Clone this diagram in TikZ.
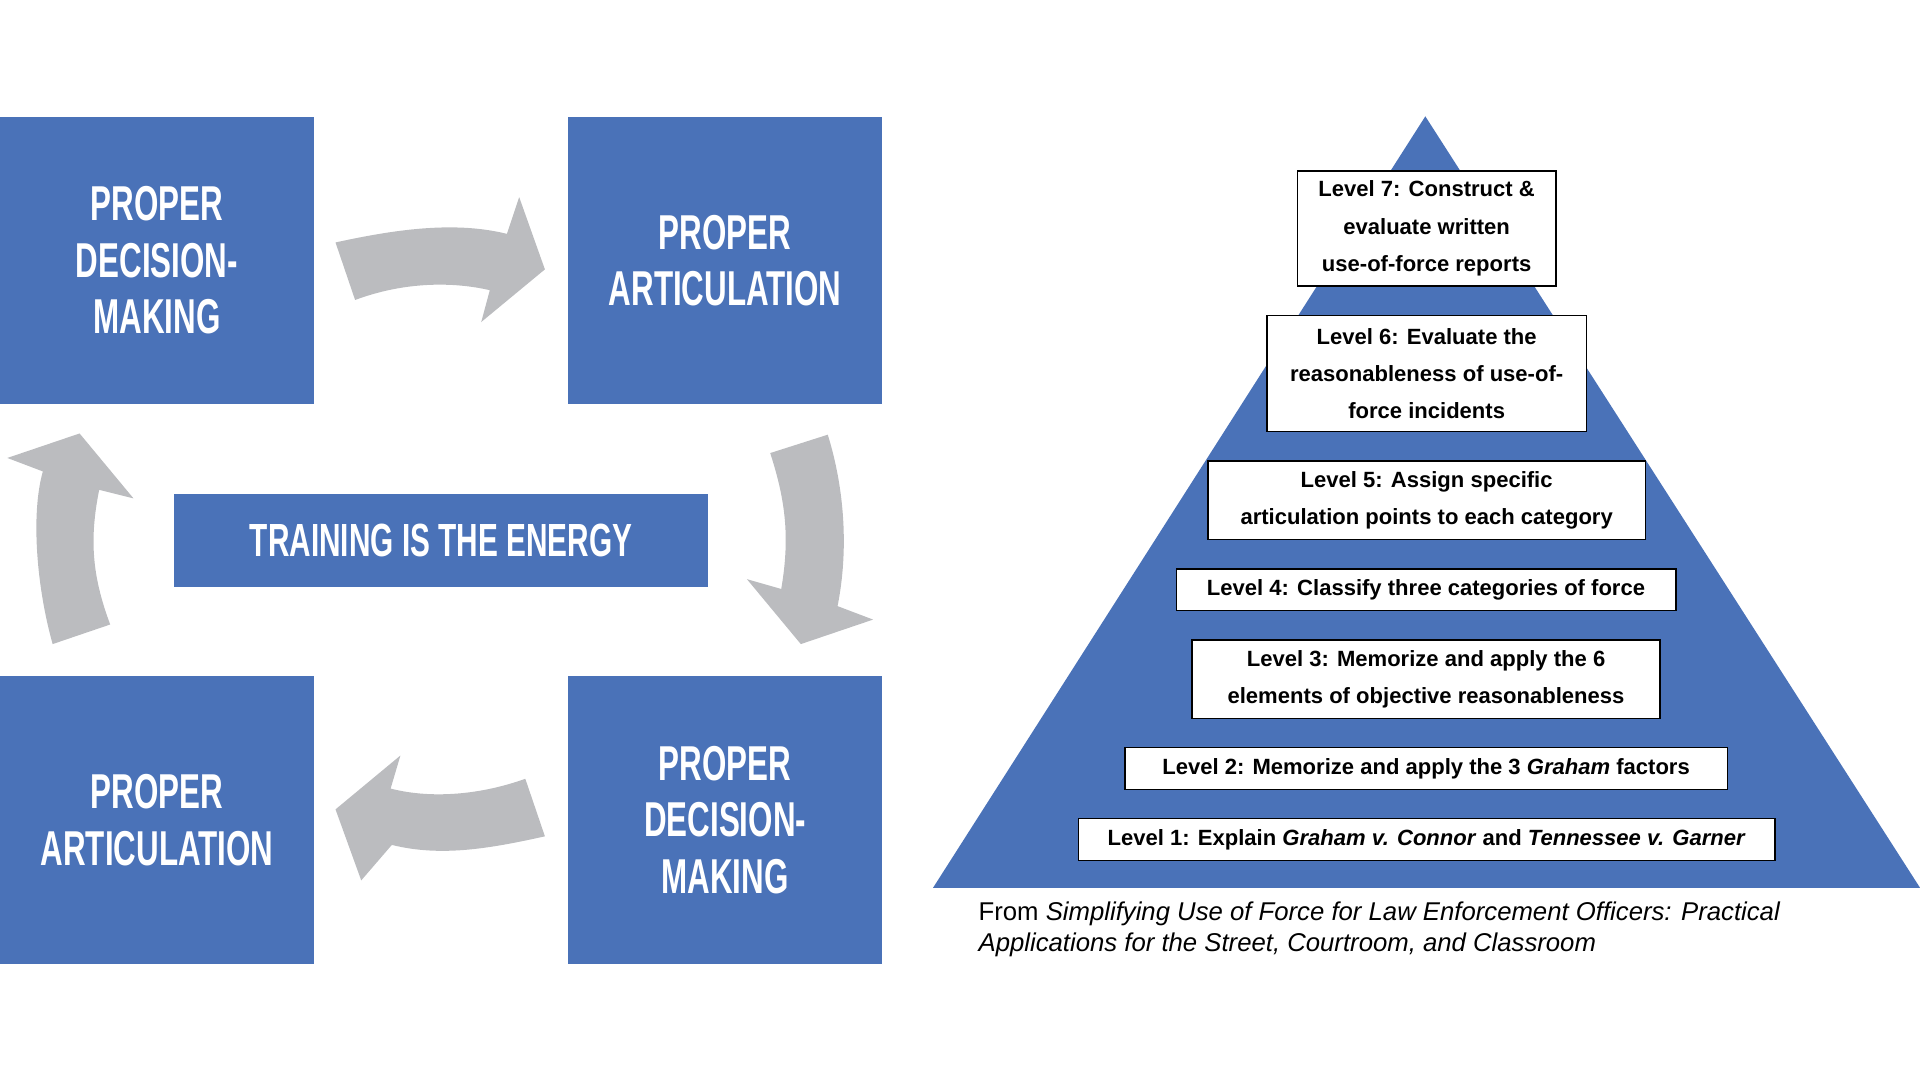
\documentclass[tikz,border=0pt]{standalone}
\usepackage{fontspec}
\setmainfont{Liberation Sans}
\newfontfamily\cond{Liberation Sans Bold}[FakeStretch=0.64]
\definecolor{bl}{HTML}{4A72B8}
\definecolor{gr}{HTML}{BBBCBF}
\begin{document}
\begin{tikzpicture}[x=1pt,y=-1pt,
 box/.style={fill=bl,draw=none,inner sep=0,minimum width=256pt,minimum height=235pt,anchor=north west,text=white,align=center,font=\cond\fontsize{40}{46}\selectfont},
 lvl/.style={draw=black,line width=1.2pt,fill=white,inner sep=0,anchor=north west,align=center,font=\bfseries\fontsize{18}{30.5}\selectfont},
 arr/.style={fill=gr,draw=none}]
\useasboundingbox (0,0) rectangle (1568,882);
\node[box] (tl) at (0,95) {PROPER\\DECISION-\\MAKING};
\node[box] (tr) at (464,95) {PROPER\\ARTICULATION};
\node[box] (bl) at (0,552) {PROPER\\ARTICULATION};
\node[box] (br) at (464,552) {PROPER\\DECISION-\\MAKING};
\node[fill=bl,inner sep=0,minimum width=436pt,minimum height=76pt,anchor=north west,text=white,font=\cond\fontsize{38}{40}\selectfont] (tr) at (142,403) {TRAINING IS THE ENERGY};
% arrows
\fill[arr] (274,198) .. controls (320,188) and (370,180) .. (414,191) -- (424,161) -- (445,220) -- (393,263) -- (400,237) .. controls (370,230) and (330,230) .. (290,245) -- cycle;
\fill[arr] (676,355) .. controls (690,400) and (693,450) .. (684,495) -- (713,506) -- (654,526) -- (610,473) -- (638,481) .. controls (645,440) and (642,410) .. (629,370) -- cycle;
\fill[arr] (445,683) .. controls (400,693) and (360,700) .. (320,690) -- (295,719) -- (274,661) -- (327,617) -- (319,644) .. controls (350,652) and (390,650) .. (429,636) -- cycle;
\fill[arr] (43,526) .. controls (30,480) and (25,420) .. (35,385) -- (6,374) -- (65,354) -- (109,407) -- (81,400) .. controls (73,440) and (75,470) .. (90,510) -- cycle;
% pyramid
\fill[bl] (1164,95) -- (1568,725) -- (762,725) -- cycle;
\node[lvl,minimum width=211pt,minimum height=94pt] (l7) at (1059,139) {Level 7: Construct \&\\evaluate written\\use-of-force reports};
\node[lvl,minimum width=261pt,minimum height=95pt] (l6) at (1034,257) {Level 6: Evaluate the\\reasonableness of use-of-\\force incidents};
\node[lvl,minimum width=357pt,minimum height=64pt] (l5) at (986,376) {Level 5: Assign specific\\articulation points to each category};
\node[lvl,minimum width=408pt,minimum height=34pt] (l4) at (960,464) {Level 4: Classify three categories of force};
\node[lvl,minimum width=382pt,minimum height=64pt] (l3) at (973,522) {Level 3: Memorize and apply the 6\\elements of objective reasonableness};
\node[lvl,minimum width=492pt,minimum height=34pt] (l2) at (918,610) {Level 2: Memorize and apply the 3 \textit{Graham} factors};
\node[lvl,minimum width=569pt,minimum height=34pt] (l1) at (880,668) {Level 1: Explain \textit{Graham v. Connor} and \textit{Tennessee v. Garner}};
\node[anchor=north west,inner sep=0,align=left,font=\fontsize{21}{26}\selectfont] (cap) at (799,736) {From \textit{Simplifying Use of Force for Law Enforcement Officers: Practical}\\\textit{Applications for the Street, Courtroom, and Classroom}};
\end{tikzpicture}
\end{document}
